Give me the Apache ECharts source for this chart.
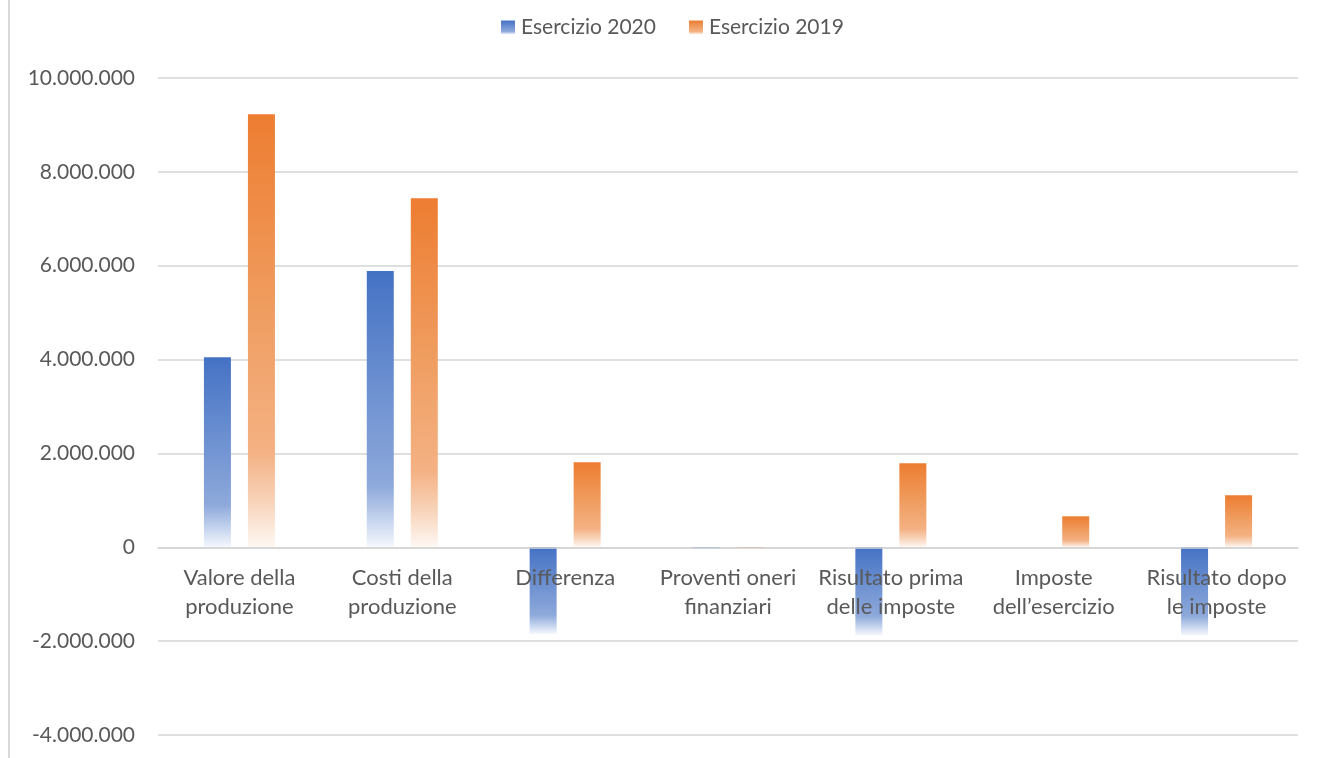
<!DOCTYPE html>
<html>
<head>
<meta charset="utf-8">
<style>
  html, body { margin: 0; padding: 0; background: #ffffff; }
  #chart { width: 1317px; height: 758px; }
</style>
<script src="https://cdn.jsdelivr.net/npm/echarts@6/dist/echarts.min.js"></script>
</head>
<body>
<div id="chart"></div>
<script>
// Conto economico a confronto: Esercizio 2020 vs Esercizio 2019
const categories = [
  'Valore della\nproduzione',
  'Costi della\nproduzione',
  'Differenza',
  'Proventi oneri\nfinanziari',
  'Risultato prima\ndelle imposte',
  'Imposte\ndell\u2019esercizio',
  'Risultato dopo\nle imposte'
];
const seriesNames = ['Esercizio 2020', 'Esercizio 2019'];
const values2020 = [4050000, 5890000, -1850000, -30000, -1875000, 0, -1875000];
const values2019 = [9230000, 7440000, 1810000, -25000, 1790000, 660000, 1110000];
const yTicks = { min: -4000000, max: 10000000, step: 2000000 };

const FONT = 'Lato, "Open Sans", sans-serif';
const TEXT = '#595959';

const GRID = { left: 158, right: 19, top: 78, bottom: 23 };
const CHART_H = 758;

// Thousands separator with dots (Italian style)
function fmt(v) {
  const s = Math.abs(v).toString().replace(/\B(?=(\d{3})+(?!\d))/g, '.');
  return (v < 0 ? '-' : '') + s;
}

function fade(stops) {
  return new echarts.graphic.LinearGradient(0, 0, 0, 1,
    stops.map(([offset, color]) => ({ offset, color })));
}

// Category axis sits on the zero line: shift it up from the grid bottom
const plotH = CHART_H - GRID.top - GRID.bottom;
const zeroShift = plotH * (0 - yTicks.min) / (yTicks.max - yTicks.min);

const blueFill = fade([[0, '#4472C4'], [0.78, '#8EA9DB'], [0.9, '#C5D4EE'], [1, '#F5F8FD']]);
const orangeFill = fade([[0, '#ED7D31'], [0.5, '#F0A065'], [0.78, '#F4B183'], [0.9, '#F8D5BC'], [1, '#FEF8F4']]);

const chart = echarts.init(document.getElementById('chart'), null, { renderer: 'canvas' });

chart.setOption({
  animation: false,
  backgroundColor: '#ffffff',
  textStyle: { fontFamily: FONT },
  graphic: [{
    type: 'rect',
    shape: { x: 8, y: 0, width: 2, height: 758 },
    style: { fill: '#d9d9d9' },
    silent: true
  }],
  legend: {
    top: 12,
    left: 496,
    icon: 'rect',
    itemWidth: 14,
    itemHeight: 14,
    itemGap: 33,
    textStyle: { color: TEXT, fontSize: 21, fontFamily: FONT, padding: [0, 0, 0, 1] },
    data: seriesNames
  },
  grid: Object.assign({ containLabel: false, outerBoundsMode: 'none' }, GRID),
  xAxis: {
    type: 'category',
    data: categories,
    z: 10,
    offset: -zeroShift,
    axisLine: { show: true, onZero: false, lineStyle: { color: '#d4d4d4', width: 1.5 } },
    axisTick: { show: false },
    axisLabel: {
      interval: 0,
      color: TEXT,
      fontSize: 22,
      fontFamily: FONT,
      lineHeight: 29,
      margin: 16
    },
    splitLine: { show: false }
  },
  yAxis: {
    type: 'value',
    min: yTicks.min,
    max: yTicks.max,
    interval: yTicks.step,
    axisLine: { show: false },
    axisTick: { show: false },
    axisLabel: {
      color: TEXT,
      fontSize: 21,
      fontFamily: FONT,
      margin: 23,
      formatter: fmt
    },
    splitLine: { show: true, lineStyle: { color: '#d4d4d4', width: 1.5 } }
  },
  series: [
    {
      name: seriesNames[0],
      type: 'bar',
      data: values2020,
      barWidth: 27,
      barGap: '63%',
      itemStyle: { color: blueFill }
    },
    {
      name: seriesNames[1],
      type: 'bar',
      data: values2019,
      barWidth: 27,
      barGap: '63%',
      itemStyle: { color: orangeFill }
    }
  ]
});
</script>
</body>
</html>
